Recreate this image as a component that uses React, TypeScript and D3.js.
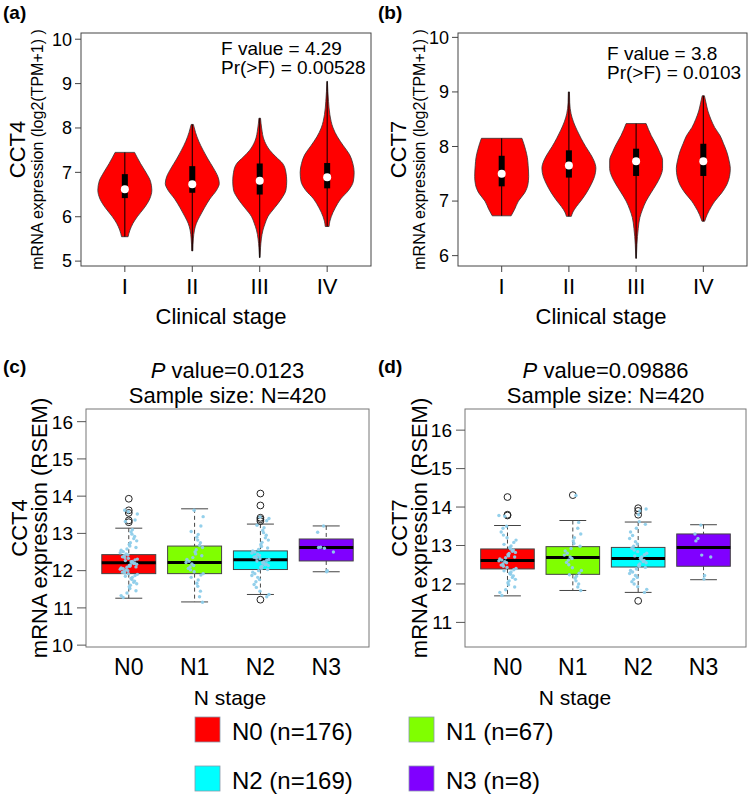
import React from "react";
import * as d3 from "d3";

// ---------- categories ----------
const stages = ["I", "II", "III", "IV"];
const nStages = ["N0", "N1", "N2", "N3"];
const nCounts = [176, 67, 169, 8];
const nColors = ["#FF0000", "#80FF00", "#00FFFF", "#8000FF"];

// ---------- violin panels (TPM) : [value, relative density] ----------
const cct4Violins: [number, number][][] = [
  [[5.55, 0.12], [5.7, 0.19], [5.85, 0.3], [6.0, 0.46], [6.2, 0.72], [6.4, 0.92], [6.6, 1.0], [6.8, 0.95], [7.0, 0.78], [7.2, 0.58], [7.45, 0.36]],
  [[5.23, 0.02], [5.5, 0.04], [5.7, 0.08], [5.85, 0.15], [6.0, 0.27], [6.2, 0.45], [6.4, 0.65], [6.6, 0.9], [6.75, 1.0], [6.9, 0.95], [7.1, 0.78], [7.3, 0.58], [7.5, 0.4], [7.7, 0.24], [7.9, 0.12], [8.08, 0.04]],
  [[5.08, 0.01], [5.3, 0.03], [5.5, 0.06], [5.7, 0.12], [5.85, 0.2], [6.0, 0.3], [6.2, 0.55], [6.4, 0.8], [6.6, 0.97], [6.8, 1.0], [7.0, 0.97], [7.2, 0.85], [7.35, 0.6], [7.5, 0.37], [7.7, 0.18], [8.0, 0.07], [8.22, 0.03]],
  [[5.78, 0.07], [5.9, 0.1], [6.0, 0.15], [6.2, 0.3], [6.4, 0.5], [6.6, 0.8], [6.8, 0.97], [7.0, 1.0], [7.2, 0.95], [7.4, 0.83], [7.6, 0.6], [7.8, 0.38], [8.0, 0.22], [8.3, 0.1], [8.6, 0.05], [9.05, 0.01]],
];
const cct7Violins: [number, number][][] = [
  [[6.73, 0.35], [6.85, 0.48], [7.0, 0.62], [7.15, 0.85], [7.3, 0.97], [7.45, 1.0], [7.65, 0.98], [7.8, 0.95], [7.95, 0.88], [8.05, 0.82], [8.15, 0.75]],
  [[6.72, 0.09], [6.8, 0.15], [6.9, 0.28], [7.0, 0.44], [7.15, 0.65], [7.3, 0.82], [7.45, 0.95], [7.6, 1.0], [7.75, 0.92], [7.9, 0.75], [8.0, 0.62], [8.15, 0.45], [8.3, 0.3], [8.45, 0.17], [8.6, 0.08], [8.8, 0.03], [9.0, 0.02]],
  [[5.95, 0.01], [6.2, 0.03], [6.5, 0.08], [6.7, 0.14], [6.85, 0.24], [7.0, 0.37], [7.15, 0.55], [7.3, 0.74], [7.45, 0.9], [7.6, 0.98], [7.75, 0.98], [7.9, 0.87], [8.0, 0.78], [8.2, 0.56], [8.42, 0.37]],
  [[6.63, 0.05], [6.75, 0.14], [6.9, 0.3], [7.0, 0.43], [7.15, 0.68], [7.3, 0.87], [7.45, 0.97], [7.6, 1.0], [7.75, 0.95], [7.9, 0.87], [8.05, 0.75], [8.2, 0.62], [8.35, 0.42], [8.5, 0.28], [8.65, 0.17], [8.8, 0.1], [8.93, 0.04]],
];
const cct4Q1 = [6.42, 6.54, 6.5, 6.64];
const cct4Med = [6.62, 6.73, 6.81, 6.89];
const cct4Q3 = [6.96, 7.14, 7.2, 7.21];
const cct7Q1 = [7.27, 7.43, 7.46, 7.46];
const cct7Med = [7.5, 7.65, 7.73, 7.73];
const cct7Q3 = [7.83, 7.93, 7.96, 8.05];
const cct4TpmDomain = [4.89, 10.14];
const cct7TpmDomain = [5.81, 10.08];
const cct4TpmTicks = [5, 6, 7, 8, 9, 10];
const cct7TpmTicks = [6, 7, 8, 9, 10];
const cct4FStats = ["F value = 4.29", "Pr(>F) = 0.00528"];
const cct7FStats = ["F value = 3.8", "Pr(>F) = 0.0103"];

// ---------- box panels (RSEM) ----------
const cct4Q1b = [11.92, 11.92, 12.03, 12.26];
const cct4Medb = [12.21, 12.22, 12.29, 12.62];
const cct4Q3b = [12.43, 12.66, 12.53, 12.85];
const cct4Lo = [11.26, 11.16, 11.36, 11.97];
const cct4Hi = [13.14, 13.66, 13.25, 13.2];
const cct4Outliers = [[13.93, 13.62, 13.55, 13.35, 13.3], [], [14.07, 13.75, 13.42, 13.38, 13.33, 11.22], []];
const cct7Q1b = [12.39, 12.25, 12.44, 12.46];
const cct7Medb = [12.61, 12.69, 12.66, 12.95];
const cct7Q3b = [12.91, 12.97, 12.95, 13.3];
const cct7Lo = [11.69, 11.83, 11.78, 12.11];
const cct7Hi = [13.52, 13.65, 13.61, 13.54];
const cct7Outliers = [[14.26, 13.8, 13.78], [14.31], [13.97, 13.9, 13.8, 11.56], []];
const cct4RsemDomain = [9.95, 16.34];
const cct7RsemDomain = [10.36, 16.55];
const cct4RsemTicks = [10, 11, 12, 13, 14, 15, 16];
const cct7RsemTicks = [11, 12, 13, 14, 15, 16];
const cct4PValue = "0.0123";
const cct7PValue = "0.09886";
const sampleSize = 420;

const cct4N0 = [11.28, 11.33, 11.4, 11.46, 11.52, 11.57, 11.61, 11.65, 11.69, 11.72, 11.76, 11.79, 11.82, 11.85, 11.87, 11.9, 11.92, 11.94, 11.96, 11.98, 12.0, 12.02, 12.04, 12.05, 12.07, 12.09, 12.1, 12.12, 12.14, 12.15, 12.17, 12.19, 12.2, 12.22, 12.24, 12.25, 12.27, 12.29, 12.31, 12.33, 12.35, 12.37, 12.4, 12.42, 12.45, 12.48, 12.51, 12.55, 12.58, 12.62, 12.66, 12.7, 12.75, 12.8, 12.86, 12.92, 12.98, 13.04, 13.1, 13.32, 13.36, 13.52, 13.58, 13.62];
const cct4N1 = [11.15, 11.3, 11.45, 11.58, 11.66, 11.75, 11.82, 11.88, 11.92, 11.97, 12.02, 12.06, 12.1, 12.14, 12.18, 12.22, 12.25, 12.3, 12.35, 12.4, 12.45, 12.5, 12.56, 12.62, 12.68, 12.75, 12.82, 12.9, 12.97, 13.05, 13.2, 13.45, 13.62];
const cct4N2 = [11.3, 11.36, 11.45, 11.55, 11.63, 11.7, 11.76, 11.82, 11.87, 11.92, 11.96, 12.0, 12.03, 12.06, 12.09, 12.12, 12.14, 12.16, 12.18, 12.2, 12.22, 12.24, 12.26, 12.28, 12.3, 12.32, 12.34, 12.36, 12.38, 12.41, 12.44, 12.47, 12.5, 12.53, 12.57, 12.61, 12.65, 12.7, 12.76, 12.82, 12.88, 12.95, 13.02, 13.08, 13.15, 13.22, 13.34, 13.4, 13.44];
const cct4N3 = [13.2, 13.03, 12.63, 12.62, 12.6, 12.5, 12.0, 11.97];
const cct7N0 = [11.7, 11.78, 11.85, 11.92, 11.98, 12.03, 12.08, 12.12, 12.17, 12.21, 12.25, 12.28, 12.31, 12.34, 12.37, 12.4, 12.43, 12.46, 12.49, 12.52, 12.55, 12.58, 12.6, 12.62, 12.65, 12.68, 12.7, 12.73, 12.76, 12.79, 12.82, 12.85, 12.88, 12.91, 12.95, 12.99, 13.03, 13.08, 13.14, 13.2, 13.27, 13.35, 13.45, 13.5, 13.76, 13.78];
const cct7N1 = [11.83, 11.92, 12.0, 12.08, 12.15, 12.2, 12.24, 12.28, 12.35, 12.42, 12.5, 12.56, 12.62, 12.66, 12.7, 12.75, 12.8, 12.86, 12.92, 12.98, 13.05, 13.12, 13.2, 13.3, 13.45, 13.6, 14.3];
const cct7N2 = [11.78, 11.86, 11.93, 12.0, 12.06, 12.12, 12.17, 12.22, 12.27, 12.31, 12.35, 12.39, 12.43, 12.46, 12.49, 12.52, 12.55, 12.58, 12.61, 12.64, 12.67, 12.7, 12.73, 12.76, 12.8, 12.84, 12.88, 12.93, 12.98, 13.04, 13.1, 13.18, 13.26, 13.35, 13.45, 13.55, 13.62, 13.8, 13.9, 13.95];
const cct7N3 = [13.53, 13.3, 13.18, 13.12, 12.75, 12.7, 12.22, 12.13];
// horizontal jitter offsets (fraction of jitter half-width), cycled
const jitterOffsets = [-0.62, 0.35, -0.1, 0.88, -0.45, 0.12, 0.7, -0.85, 0.25, -0.3, 0.55, -0.7, 0.05, 0.95, -0.2, 0.4, -0.95, 0.65, -0.5, 0.18, -0.05, 0.8, -0.38];

const FONT = "'Liberation Sans', Arial, sans-serif";

type VP = {
  x0: number; x1: number; y0: number; y1: number;
  domain: number[]; ticks: number[]; profiles: [number, number][][];
  q1: number[]; med: number[]; q3: number[];
  gene: string; stats: string[]; statX: number; statY: number;
  geneX: number; subX: number; titleX: number; tag: string; tagX: number;
};

function ViolinPanel(p: VP) {
  const x = d3.scalePoint<string>().domain(stages).range([p.x0, p.x1]).padding(0.65);
  const y = d3.scaleLinear().domain(p.domain).range([p.y1, p.y0]);
  const w = d3.scaleLinear().domain([0, 1]).range([0, 27]);
  const cy = (p.y0 + p.y1) / 2;
  return (
    <g fontFamily={FONT}>
      <text x={p.tagX} y={19} fontSize={19} fontWeight="bold">{p.tag}</text>
      {p.profiles.map((prof, i) => {
        const cx = x(stages[i])!;
        const area = d3.area<[number, number]>()
          .y((d) => y(d[0]))
          .x0((d) => cx - w(d[1]))
          .x1((d) => cx + w(d[1]))
          .curve(d3.curveMonotoneY);
        const lo = prof[0][0];
        const hi = prof[prof.length - 1][0];
        return (
          <g key={i}>
            <path d={area(prof) || ""} fill="#FF0000" stroke="#333" strokeWidth={0.8} />
            <line x1={cx} x2={cx} y1={y(lo)} y2={y(hi)} stroke="#000" strokeWidth={1} />
            <rect x={cx - 3} width={6} y={y(p.q3[i])} height={y(p.q1[i]) - y(p.q3[i])} fill="#000" />
            <circle cx={cx} cy={y(p.med[i])} r={4} fill="#fff" />
          </g>
        );
      })}
      <rect x={p.x0} y={p.y0} width={p.x1 - p.x0} height={p.y1 - p.y0} fill="none" stroke="#444" strokeWidth={1} />
      {p.ticks.map((t) => (
        <g key={t}>
          <line x1={p.x0 - 6} x2={p.x0} y1={y(t)} y2={y(t)} stroke="#444" />
          <text x={p.x0 - 9} y={y(t)} dy="0.35em" textAnchor="end" fontSize={18}>{t}</text>
        </g>
      ))}
      {stages.map((s) => (
        <g key={s}>
          <line x1={x(s)} x2={x(s)} y1={p.y1} y2={p.y1 + 6} stroke="#444" />
          <text x={x(s)} y={p.y1 + 28} textAnchor="middle" fontSize={22}>{s}</text>
        </g>
      ))}
      <text x={p.titleX} y={324} textAnchor="middle" fontSize={22}>Clinical stage</text>
      <text transform={`translate(${p.geneX},${cy}) rotate(-90)`} textAnchor="middle" fontSize={22}>{p.gene}</text>
      <text transform={`translate(${p.subX},${cy}) rotate(-90)`} textAnchor="middle" fontSize={16}>mRNA expression (log2(TPM+1) )</text>
      {p.stats.map((s, i) => (
        <text key={i} x={p.statX} y={p.statY + i * 19} fontSize={19}>{s}</text>
      ))}
    </g>
  );
}

type BP = {
  x0: number; x1: number; y0: number; y1: number;
  domain: number[]; ticks: number[];
  q1: number[]; med: number[]; q3: number[]; lo: number[]; hi: number[];
  outliers: number[][]; points: number[][];
  gene: string; pval: string; geneX: number; subX: number; titleX: number; tag: string; tagX: number;
};

function BoxPanel(p: BP) {
  const x = d3.scalePoint<string>().domain(nStages).range([p.x0, p.x1]).padding(0.65);
  const y = d3.scaleLinear().domain(p.domain).range([p.y1, p.y0]);
  const bw = x.step() * 0.82;
  const jx = d3.scaleLinear().domain([-1, 1]).range([-9, 9]);
  const cy = (p.y0 + p.y1) / 2;
  const cxm = (p.x0 + p.x1) / 2;
  return (
    <g fontFamily={FONT}>
      <text x={p.tagX} y={373} fontSize={19} fontWeight="bold">{p.tag}</text>
      <text x={cxm} y={378} textAnchor="middle" fontSize={22}>
        <tspan fontStyle="italic">P</tspan> value={p.pval}
      </text>
      <text x={cxm} y={403} textAnchor="middle" fontSize={22}>Sample size: N={sampleSize}</text>
      <rect x={p.x0} y={p.y0} width={p.x1 - p.x0} height={p.y1 - p.y0} fill="none" stroke="#777" strokeWidth={1} />
      {nStages.map((s, i) => {
        const cx = x(s)!;
        return (
          <g key={s}>
            <line x1={cx} x2={cx} y1={y(p.hi[i])} y2={y(p.q3[i])} stroke="#444" strokeDasharray="4,3" />
            <line x1={cx} x2={cx} y1={y(p.q1[i])} y2={y(p.lo[i])} stroke="#444" strokeDasharray="4,3" />
            <line x1={cx - bw / 4} x2={cx + bw / 4} y1={y(p.hi[i])} y2={y(p.hi[i])} stroke="#444" />
            <line x1={cx - bw / 4} x2={cx + bw / 4} y1={y(p.lo[i])} y2={y(p.lo[i])} stroke="#444" />
            <rect x={cx - bw / 2} width={bw} y={y(p.q3[i])} height={y(p.q1[i]) - y(p.q3[i])} fill={nColors[i]} stroke="#444" strokeWidth={1} />
            <line x1={cx - bw / 2} x2={cx + bw / 2} y1={y(p.med[i])} y2={y(p.med[i])} stroke="#000" strokeWidth={3} />
            {p.outliers[i].map((v, k) => (
              <circle key={"o" + k} cx={cx} cy={y(v)} r={3.4} fill="none" stroke="#222" strokeWidth={1} />
            ))}
            {p.points[i].map((v, k) => (
              <circle key={"p" + k} cx={cx + jx(jitterOffsets[(k * 7 + i * 3) % jitterOffsets.length])} cy={y(v)} r={1.7} fill="#8ECDEA" opacity={0.95} />
            ))}
          </g>
        );
      })}
      {p.ticks.map((t) => (
        <g key={t}>
          <line x1={p.x0 - 9} x2={p.x0} y1={y(t)} y2={y(t)} stroke="#555" />
          <text x={p.x0 - 13} y={y(t)} dy="0.36em" textAnchor="end" fontSize={19}>{t}</text>
        </g>
      ))}
      {nStages.map((s) => (
        <text key={s} x={x(s)} y={675} textAnchor="middle" fontSize={23}>{s}</text>
      ))}
      <text x={p.titleX} y={705} textAnchor="middle" fontSize={21}>N stage</text>
      <text transform={`translate(${p.geneX},${cy}) rotate(-90)`} textAnchor="middle" fontSize={22}>{p.gene}</text>
      <text transform={`translate(${p.subX},${cy}) rotate(-90)`} textAnchor="middle" fontSize={22}>mRNA expression (RSEM)</text>
    </g>
  );
}

function Legend() {
  const col = d3.scaleOrdinal<number, number>().domain([0, 1, 2, 3]).range([195, 409, 195, 409]);
  const row = d3.scaleOrdinal<number, number>().domain([0, 1, 2, 3]).range([717, 717, 766, 766]);
  return (
    <g fontFamily={FONT}>
      {nStages.map((s, i) => (
        <g key={s}>
          <rect x={col(i)} y={row(i)} width={25} height={25} fill={nColors[i]} stroke="#8899aa" strokeWidth={0.8} />
          <text x={col(i) + 37} y={row(i) + 23} fontSize={24}>{`${s} (n=${nCounts[i]})`}</text>
        </g>
      ))}
    </g>
  );
}

export default function App() {
  return (
    <svg width={750} height={795} style={{ position: "absolute", left: 0, top: 0, background: "#fff" }}>
      <rect width={750} height={795} fill="#fff" />
      <ViolinPanel x0={81} x1={371} y0={33} y1={266} domain={cct4TpmDomain} ticks={cct4TpmTicks}
        profiles={cct4Violins} q1={cct4Q1} med={cct4Med} q3={cct4Q3} gene="CCT4" stats={cct4FStats}
        statX={221} statY={55} geneX={25} subX={43} titleX={221} tag="(a)" tagX={3} />
      <ViolinPanel x0={458} x1={747} y0={33} y1={266} domain={cct7TpmDomain} ticks={cct7TpmTicks}
        profiles={cct7Violins} q1={cct7Q1} med={cct7Med} q3={cct7Q3} gene="CCT7" stats={cct7FStats}
        statX={607} statY={60} geneX={406} subX={425} titleX={601} tag="(b)" tagX={378} />
      <BoxPanel x0={86} x1={369} y0={409} y1={647} domain={cct4RsemDomain} ticks={cct4RsemTicks}
        q1={cct4Q1b} med={cct4Medb} q3={cct4Q3b} lo={cct4Lo} hi={cct4Hi} outliers={cct4Outliers}
        points={[cct4N0, cct4N1, cct4N2, cct4N3]} gene="CCT4" pval={cct4PValue}
        geneX={27} subX={47} titleX={230} tag="(c)" tagX={3} />
      <BoxPanel x0={465} x1={746} y0={409} y1={647} domain={cct7RsemDomain} ticks={cct7RsemTicks}
        q1={cct7Q1b} med={cct7Medb} q3={cct7Q3b} lo={cct7Lo} hi={cct7Hi} outliers={cct7Outliers}
        points={[cct7N0, cct7N1, cct7N2, cct7N3]} gene="CCT7" pval={cct7PValue}
        geneX={407} subX={427} titleX={575} tag="(d)" tagX={378} />
      <Legend />
    </svg>
  );
}
